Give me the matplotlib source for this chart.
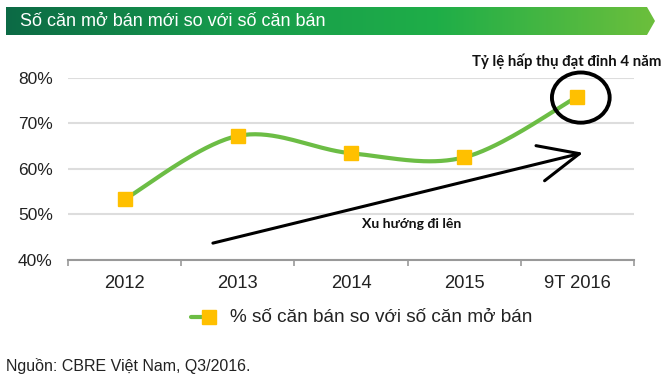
import numpy as np
import matplotlib.pyplot as plt
from matplotlib.patches import Polygon, Ellipse
from matplotlib.colors import LinearSegmentedColormap

# data
years = ["2012", "2013", "2014", "2015", "9T 2016"]
ratio = [53.3, 67.2, 63.4, 62.5, 75.8]
yticks = [40, 50, 60, 70, 80]

title = "Số căn mở bán mới so với số căn bán"
series_name = "% số căn bán so với số căn mở bán"
note_peak = "Tỷ lệ hấp thụ đạt đỉnh 4 năm"
note_trend = "Xu hướng đi lên"
source = "Nguồn: CBRE Việt Nam, Q3/2016."

LINE = "#6cbd45"
MARK = "#ffc000"
W, H = 663, 381

plt.rcParams['font.family'] = ['Liberation Sans', 'DejaVu Sans']


def smooth(xs, ys, n=40):
    # excel-like smoothed line (catmull-rom)
    p = np.column_stack([xs, ys]).astype(float)
    p = np.vstack([p[0], p, p[-1]])
    out = []
    t = np.linspace(0, 1, n)[:, None]
    for i in range(1, len(p) - 2):
        p0, p1, p2, p3 = p[i - 1], p[i], p[i + 1], p[i + 2]
        c = 0.5 * ((2 * p1) + (-p0 + p2) * t + (2 * p0 - 5 * p1 + 4 * p2 - p3) * t ** 2
                   + (-p0 + 3 * p1 - 3 * p2 + p3) * t ** 3)
        out.append(c if i == 1 else c[1:])
    c = np.vstack(out)
    return c[:, 0], c[:, 1]


fig = plt.figure(figsize=(W / 100, H / 100), dpi=100, facecolor='white')

# title banner, legend and source (pixel coords)
bg = fig.add_axes([0, 0, 1, 1], zorder=0)
bg.set_xlim(0, W)
bg.set_ylim(H, 0)
bg.axis('off')
banner = Polygon([(6, 7), (647, 7), (655, 21), (647, 35), (6, 35)], closed=True,
                 facecolor='none', edgecolor='none')
bg.add_patch(banner)
grad = np.linspace(0, 1, 256)[None, :]
cmap = LinearSegmentedColormap.from_list('g', ['#0c6a45', '#169a4c', '#1fae48', '#6cbf3c'])
im = bg.imshow(grad, cmap=cmap, extent=(6, 655, 35, 7), aspect='auto')
im.set_clip_path(banner)
bg.text(20, 22, title, color='white', fontsize=13, va='center', ha='left')
bg.text(6, 366, source, color='#222222', fontsize=11.5, va='center', ha='left')

# legend entry: short line with the marker at its end
bg.plot([191, 209], [317, 317], color=LINE, lw=3, solid_capstyle='round')
bg.plot([209], [317], ls='none', marker='s', ms=10, color=MARK)
bg.text(230, 318, series_name, fontsize=13.7, va='center', ha='left', color='#222222')

# main chart
ax = fig.add_axes([68 / W, 1 - 260 / H, (634 - 68) / W, (260 - 77.5) / H], zorder=1)
ax.patch.set_alpha(0)
x = np.arange(len(years))
sx, sy = smooth(x, ratio)
ax.plot(sx, sy, color=LINE, lw=3, solid_capstyle='round', zorder=3)
ax.plot(x, ratio, ls='none', marker='s', ms=9.5, color=MARK, mec=MARK, zorder=4)

ax.set_xlim(-0.5, len(years) - 0.5)
ax.set_ylim(40, 80)
ax.set_yticks(yticks)
ax.set_yticklabels([f"{v}%" for v in yticks])
ax.set_xticks(x)
ax.set_xticklabels(years)
ax.set_xticks(np.arange(-0.5, len(years), 1), minor=True)
ax.tick_params(axis='y', length=0, pad=11, labelsize=12.5, labelcolor='#222222')
ax.tick_params(axis='x', which='major', length=0, pad=11, labelsize=13.2, labelcolor='#222222')
ax.tick_params(axis='x', which='minor', length=4, width=1.2, color='#999999', direction='out')
for s in ['top', 'right', 'left']:
    ax.spines[s].set_visible(False)
ax.spines['bottom'].set_color('#999999')
ax.spines['bottom'].set_linewidth(1.5)
ax.yaxis.grid(True, color='#dddddd', lw=1.5)
ax.set_axisbelow(True)

# annotations
ax.add_patch(Ellipse((x[-1] + 0.03, ratio[-1] - 0.2), 0.51, 11, fill=False,
                     ec='black', lw=2.8, clip_on=False, zorder=5))
ax.text(x[-1] + 0.74, 83.6, note_peak, fontsize=10.8, fontweight='bold', ha='right',
        va='center', family=['Lato', 'DejaVu Sans'], color='#111111')
ax.annotate('', xy=(4.05, 63.5), xytext=(0.78, 43.7),
            arrowprops=dict(arrowstyle='->,head_length=2.9,head_width=1.3', lw=2.2,
                            color='black', mutation_scale=10, shrinkA=0, shrinkB=0),
            annotation_clip=False)
ax.text(2.54, 47.8, note_trend, fontsize=10.1, fontweight='bold', ha='center', va='center',
        family=['Lato', 'DejaVu Sans'], color='#111111')

fig.savefig('out.png', dpi=100, facecolor='white')
